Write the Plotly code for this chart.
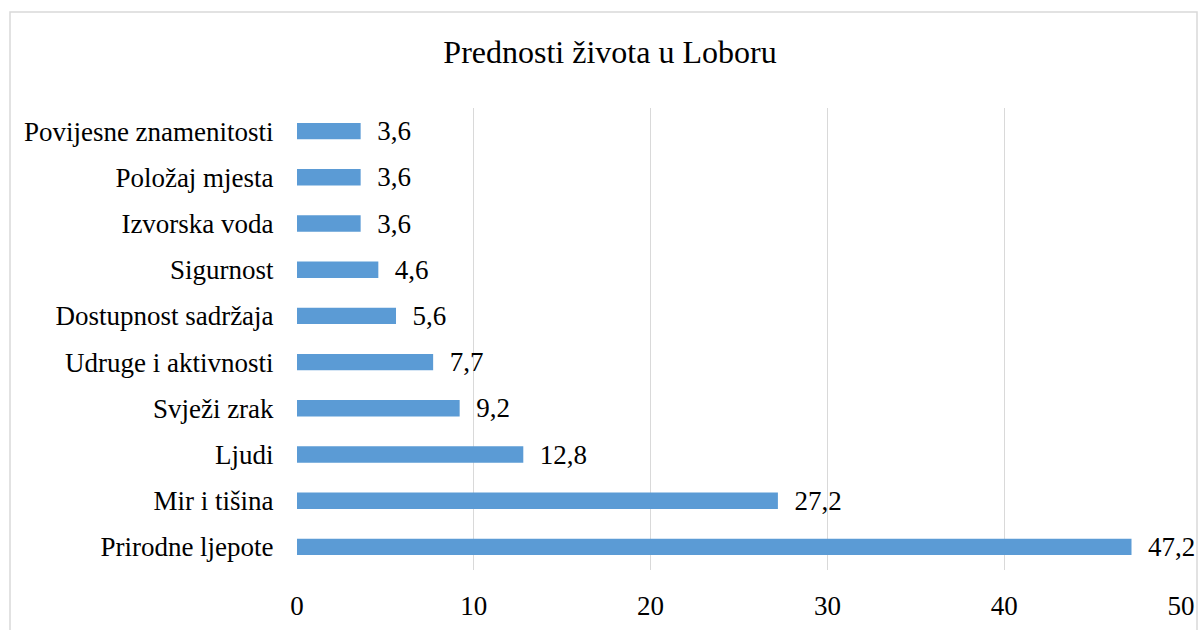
import plotly.graph_objects as go

# podaci (odozdo prema gore)
kategorije = ["Prirodne ljepote", "Mir i tišina", "Ljudi", "Svježi zrak",
              "Udruge i aktivnosti", "Dostupnost sadržaja", "Sigurnost",
              "Izvorska voda", "Položaj mjesta", "Povijesne znamenitosti"]
vrijednosti = [47.2, 27.2, 12.8, 9.2, 7.7, 5.6, 4.6, 3.6, 3.6, 3.6]
oznake = [f"{v:.1f}".replace(".", ",") for v in vrijednosti]
x_tickovi = [0, 10, 20, 30, 40, 50]

font = "Liberation Serif, Times New Roman, serif"

W, H = 1198, 630
L, R, T, B = 297, 17, 108, 60
pw, ph = W - L - R, H - T - B

fig = go.Figure()

fig.add_trace(go.Bar(
    x=vrijednosti,
    y=kategorije,
    orientation="h",
    marker=dict(color="#5B9BD5", line=dict(width=0)),
    width=0.355,
    text=["\u00a0\u00a0" + t for t in oznake],
    textposition="outside",
    constraintext="none",
    textfont=dict(family=font, size=27, color="#000000"),
    cliponaxis=False,
))

fig.update_layout(
    width=W,
    height=H,
    margin=dict(l=L, r=R, t=T, b=B, autoexpand=False),
    plot_bgcolor="white",
    paper_bgcolor="white",
    showlegend=False,
    title=dict(text="Prednosti života u Loboru", x=610 / W, xanchor="center",
               y=1 - 52 / H, yanchor="middle",
               font=dict(family=font, size=32, color="#000000")),
    xaxis=dict(range=[0, 50], tickvals=x_tickovi, showgrid=True,
               gridcolor="#d9d9d9", gridwidth=1, zeroline=False,
               showline=False, ticks="outside", ticklen=12,
               tickcolor="rgba(0,0,0,0)", automargin=False,
               tickfont=dict(family=font, size=27, color="#000000")),
    yaxis=dict(showgrid=False, zeroline=False, showline=False,
               ticks="outside", ticklen=17, tickcolor="rgba(0,0,0,0)",
               automargin=False,
               tickfont=dict(family=font, size=27, color="#000000")),
)

# okvir grafikona
fig.add_shape(type="rect", xref="paper", yref="paper",
              x0=(10 - L) / pw, x1=(1197 - L) / pw,
              y0=-(H + 20 - (T + ph)) / ph, y1=(T + ph - 12) / ph,
              line=dict(color="#d9d9d9", width=1.5), layer="below")

# bez margine stranice, da figura stane točno u prozor
fig.write_html("out.html", config={"displayModeBar": False},
               post_script="document.body.style.margin='0px';")
